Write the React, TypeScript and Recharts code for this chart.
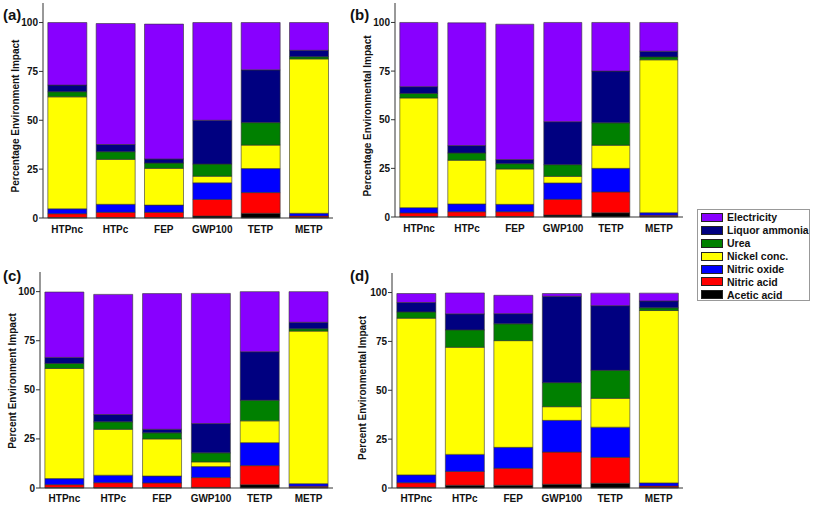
import React from 'react';
import { Bar, BarChart, XAxis, YAxis } from 'recharts';

const CATEGORIES = ['HTPnc', 'HTPc', 'FEP', 'GWP100', 'TETP', 'METP'];
const SERIES_NAMES = [
  'Acetic acid',
  'Nitric acid',
  'Nitric oxide',
  'Nickel conc.',
  'Urea',
  'Liquor ammonia',
  'Electricity',
];
const SERIES_COLORS = ['#000000', '#ff0000', '#0000ff', '#ffff00', '#008000', '#000080', '#8800ff'];
const Y_TICKS = [0, 25, 50, 75, 100];
const Y_MINOR = [12.5, 37.5, 62.5, 87.5];
const X_EDGES = [0, 1, 2, 3, 4, 5, 6];

// rows follow SERIES_NAMES, columns follow CATEGORIES
const PANEL_A = [
  [0.2, 0.2, 0.2, 1.0, 2.4, 0.3],
  [2.0, 2.7, 2.7, 8.5, 10.6, 0.7],
  [2.5, 4.1, 3.7, 8.5, 12.3, 1.4],
  [57.3, 23.0, 18.8, 3.4, 12.0, 79.0],
  [2.6, 3.9, 2.7, 6.2, 11.5, 1.1],
  [3.4, 3.7, 2.1, 22.4, 27.0, 3.3],
  [32.0, 61.9, 69.0, 50.0, 24.2, 14.2],
];
const PANEL_B = [
  [0.2, 0.2, 0.2, 1.0, 2.2, 0.3],
  [1.9, 2.5, 2.5, 8.1, 10.7, 0.6],
  [2.7, 4.0, 3.8, 8.4, 12.1, 1.3],
  [56.4, 22.5, 18.2, 3.4, 11.9, 78.6],
  [2.3, 3.7, 2.7, 6.0, 11.5, 1.5],
  [3.5, 3.8, 2.1, 22.1, 26.6, 2.9],
  [33.0, 63.1, 69.6, 51.0, 25.0, 14.8],
];
const PANEL_C = [
  [0.2, 0.2, 0.2, 0.3, 1.7, 0.3],
  [1.5, 2.5, 2.4, 5.0, 9.7, 0.6],
  [3.1, 3.8, 3.5, 5.6, 11.7, 1.3],
  [56.1, 23.4, 18.9, 2.4, 11.1, 77.7],
  [2.5, 3.8, 3.1, 4.6, 10.5, 1.2],
  [3.1, 3.7, 1.8, 14.9, 24.7, 3.3],
  [33.3, 61.2, 69.1, 66.3, 30.6, 15.6],
];
const PANEL_D = [
  [0.3, 1.4, 1.4, 1.9, 2.4, 0.3],
  [2.4, 7.1, 8.7, 16.5, 13.3, 0.7],
  [4.0, 8.7, 10.7, 16.2, 15.4, 1.6],
  [80.2, 54.8, 54.6, 7.0, 14.8, 88.2],
  [3.2, 8.9, 8.6, 12.3, 14.3, 1.4],
  [4.8, 8.2, 5.2, 44.2, 33.1, 3.5],
  [4.6, 10.7, 9.4, 1.4, 6.4, 4.0],
];

const FONT = '"Liberation Sans", Arial, sans-serif';
const tickStyle = { fontSize: 10, fontWeight: 700, fill: '#111', fontFamily: FONT };

type PanelProps = {
  tag: string;
  yLabel: string;
  values: number[][];
  left: number;
  top: number;
  height: number;
  margin: { top: number; right: number; left: number; bottom: number };
  xHeight: number;
  xGap: number;
  labelX: number;
  labelY: number;
  tagX: number;
  tagY: number;
};

function Panel(p: PanelProps) {
  const rows = CATEGORIES.map((cat, i) => {
    const r: Record<string, number | string> = { cat };
    p.values.forEach((s, k) => (r['s' + k] = s[i]));
    return r;
  });
  return (
    <>
      <div
        style={{
          position: 'absolute',
          left: p.tagX,
          top: p.tagY,
          fontFamily: FONT,
          fontWeight: 700,
          fontSize: 15,
          color: '#111',
        }}
      >
        {p.tag}
      </div>
      <div
        style={{
          position: 'absolute',
          left: p.labelX,
          top: p.labelY,
          transform: 'translate(-50%, -50%) rotate(-90deg)',
          whiteSpace: 'nowrap',
          fontFamily: FONT,
          fontWeight: 700,
          fontSize: 10,
          color: '#111',
        }}
      >
        {p.yLabel}
      </div>
      <div style={{ position: 'absolute', left: p.left, top: p.top }}>
        <BarChart width={340} height={p.height} data={rows} margin={p.margin} barCategoryGap="10%">
          <XAxis
            xAxisId="edges"
            type="number"
            domain={[0, 6]}
            ticks={X_EDGES}
            height={0}
            tick={false}
            tickSize={3}
            axisLine={false}
            tickLine={{ stroke: '#333' }}
          />
          <XAxis
            dataKey="cat"
            height={p.xHeight}
            tick={tickStyle}
            tickLine={false}
            tickMargin={p.xGap}
            axisLine={{ stroke: '#333' }}
            interval={0}
          />
          <XAxis xAxisId="top" orientation="top" height={0} tick={false} tickLine={false} axisLine={{ stroke: '#999' }} />
          <YAxis
            yAxisId="minor"
            domain={[0, 110]}
            ticks={Y_MINOR}
            width={0}
            tick={false}
            tickSize={2}
            axisLine={false}
            tickLine={{ stroke: '#333' }}
          />
          <YAxis
            domain={[0, 110]}
            ticks={Y_TICKS}
            width={30}
            tick={tickStyle}
            tickSize={4}
            tickMargin={1}
            axisLine={{ stroke: '#333' }}
            tickLine={{ stroke: '#333' }}
          />
          <YAxis yAxisId="right" orientation="right" width={0} domain={[0, 110]} tick={false} tickLine={false} axisLine={{ stroke: '#999' }} />
          {SERIES_NAMES.map((name, k) => (
            <Bar
              key={name}
              dataKey={'s' + k}
              name={name}
              stackId="a"
              fill={SERIES_COLORS[k]}
              stroke="#333"
              strokeWidth={0.6}
              isAnimationActive={false}
            />
          ))}
        </BarChart>
      </div>
    </>
  );
}

function LegendBox() {
  const order = SERIES_NAMES.map((n, k) => k).reverse();
  return (
    <div
      style={{
        position: 'absolute',
        left: 697,
        top: 209,
        width: 113,
        height: 92,
        border: '1px solid #999',
        boxSizing: 'border-box',
        padding: '1px 0 0 3px',
      }}
    >
      {order.map((k) => (
        <div key={k} style={{ display: 'flex', alignItems: 'center', height: 12.9 }}>
          <div
            style={{
              width: 22,
              height: 9,
              background: SERIES_COLORS[k],
              border: '1px solid #222',
              boxSizing: 'border-box',
              marginRight: 4,
            }}
          />
          <span style={{ fontFamily: FONT, fontWeight: 700, fontSize: 10.5, color: '#111', whiteSpace: 'nowrap' }}>
            {SERIES_NAMES[k]}
          </span>
        </div>
      ))}
    </div>
  );
}

export default function App() {
  return (
    <div style={{ position: 'absolute', left: 0, top: 0, width: 813, height: 505, background: '#fff', overflow: 'hidden' }}>
      <Panel
        tag="(a)"
        yLabel="Percentage Environment Impact"
        values={PANEL_A}
        left={0}
        top={0}
        height={240}
        margin={{ top: 3, right: 7, left: 13, bottom: 0 }}
        xHeight={22}
        xGap={2}
        labelX={15}
        labelY={116}
        tagX={3}
        tagY={6}
      />
      <Panel
        tag="(b)"
        yLabel="Percentage Environmental Impact"
        values={PANEL_B}
        left={350}
        top={0}
        height={240}
        margin={{ top: 3, right: 7, left: 15, bottom: 1 }}
        xHeight={22}
        xGap={2}
        labelX={367}
        labelY={116}
        tagX={350}
        tagY={6}
      />
      <Panel
        tag="(c)"
        yLabel="Percent Environment Impact"
        values={PANEL_C}
        left={0}
        top={270}
        height={235}
        margin={{ top: 2, right: 7, left: 10, bottom: 0 }}
        xHeight={17}
        xGap={1}
        labelX={12}
        labelY={381}
        tagX={3}
        tagY={267}
      />
      <Panel
        tag="(d)"
        yLabel="Percent Environmental Impact"
        values={PANEL_D}
        left={350}
        top={270}
        height={235}
        margin={{ top: 3, right: 7, left: 12, bottom: 0 }}
        xHeight={17}
        xGap={1}
        labelX={362}
        labelY={388}
        tagX={350}
        tagY={267}
      />
      <LegendBox />
    </div>
  );
}
